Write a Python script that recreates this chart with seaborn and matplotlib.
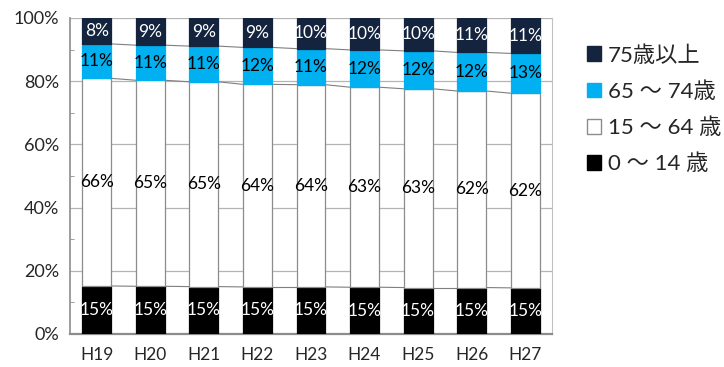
import numpy as np
import pandas as pd
import matplotlib
matplotlib.use("Agg")
import matplotlib.pyplot as plt
from matplotlib.patches import Patch
from matplotlib.ticker import MultipleLocator, PercentFormatter
import seaborn as sns

# データ (%)
years = ["H19", "H20", "H21", "H22", "H23", "H24", "H25", "H26", "H27"]
age_0_14 = [15.2, 15.1, 15.0, 14.9, 14.9, 14.8, 14.7, 14.7, 14.6]
age_15_64 = [65.7, 65.2, 64.8, 64.1, 64.0, 63.3, 62.9, 62.2, 61.6]
age_65_74 = [10.9, 11.1, 11.3, 11.7, 11.4, 11.8, 12.0, 12.2, 12.6]
age_75_up = [8.2, 8.6, 8.9, 9.3, 9.7, 10.1, 10.4, 10.9, 11.2]

labels = ["0 ～ 14 歳", "15 ～ 64 歳", "65 ～ 74歳", "75歳以上"]
colors = ["#000000", "#ffffff", "#00b0f0", "#14243f"]
text_colors = ["white", "black", "black", "white"]

sns.set_style("white")
plt.rcParams["font.family"] = ["Lato", "Noto Sans CJK JP", "DejaVu Sans"]

df = pd.DataFrame({"year": years, "a": age_0_14, "b": age_15_64,
                   "c": age_65_74, "d": age_75_up})
series = ["a", "b", "c", "d"]

fig = plt.figure(figsize=(7.24, 3.67), dpi=100)
ax = fig.add_axes([70 / 724, 33 / 367, 482 / 724, 316 / 367])

bar_w = 0.54
bottom = np.zeros(len(years))
tops = []
for s, col, tc in zip(series, colors, text_colors):
    sns.barplot(data=df, x="year", y=s, bottom=bottom, color=col,
                edgecolor="#8c8c8c" if col == "#ffffff" else col,
                linewidth=0.9, width=bar_w, saturation=1, ax=ax, zorder=3)
    for i, v in enumerate(df[s]):
        ax.text(i, bottom[i] + v / 2, f"{v:.0f}%", ha="center", va="center",
                color=tc, fontsize=12.5, zorder=5)
    bottom = bottom + df[s].values
    tops.append(bottom.copy())

# 系列線
for t in tops[:3]:
    for i in range(len(years) - 1):
        ax.plot([i + bar_w / 2, i + 1 - bar_w / 2], [t[i], t[i + 1]],
                color="#7f7f7f", linewidth=0.8, zorder=2)

ax.set_xlim(-0.5, len(years) - 0.5)
ax.set_ylim(0, 100)
ax.yaxis.set_major_locator(MultipleLocator(20))
ax.yaxis.set_minor_locator(MultipleLocator(10))
ax.yaxis.set_major_formatter(PercentFormatter(decimals=0))
ax.grid(axis="y", color="#b4b4b4", linewidth=0.9, zorder=0)
ax.set_axisbelow(True)
ax.tick_params(axis="y", which="major", length=5, color="#8c8c8c",
               labelsize=13, pad=3)
ax.tick_params(axis="y", which="minor", direction="in", length=3,
               color="#8c8c8c", left=True)
ax.tick_params(axis="x", length=0, labelsize=12.5, pad=9)
ax.set_xlabel("")
ax.set_ylabel("")
for side in ["left", "bottom", "right"]:
    ax.spines[side].set_visible(True)
    ax.spines[side].set_color("#8c8c8c")
ax.spines["bottom"].set_linewidth(1.6)
ax.spines["left"].set_linewidth(1.2)
ax.spines["right"].set_color("#c0c0c0")
ax.spines["top"].set_visible(False)

handles = [Patch(facecolor=c, edgecolor="#8c8c8c" if c == "#ffffff" else c)
           for c in colors]
leg = fig.legend(handles[::-1], labels[::-1], loc="upper left",
                 bbox_to_anchor=(567 / 724, 1 - 25 / 367), frameon=False,
                 fontsize=16, handlelength=0.65, handleheight=0.65,
                 handletextpad=0.3, labelspacing=0.7)

fig.savefig("out.png", dpi=100)
plt.close(fig)
